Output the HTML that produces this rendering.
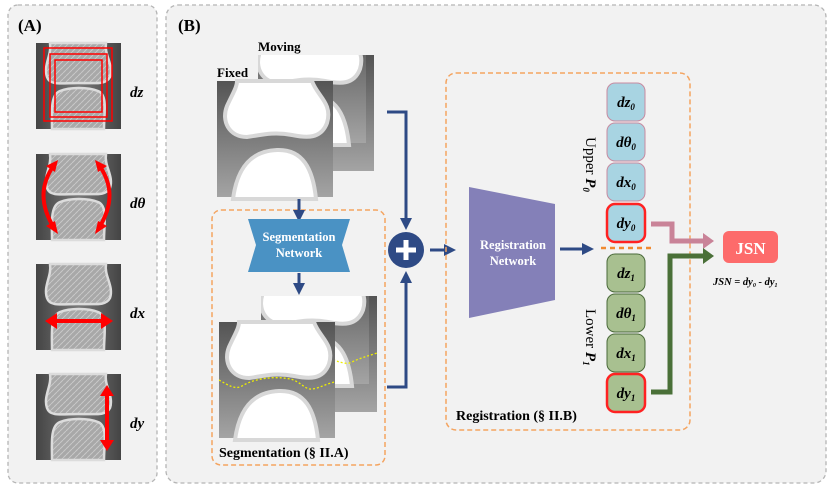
<!DOCTYPE html>
<html><head><meta charset="utf-8"><style>
html,body{margin:0;padding:0;background:#fff;}
svg{display:block;font-family:"Liberation Serif",serif;}
</style></head><body>
<svg width="830" height="491" viewBox="0 0 830 491" xmlns="http://www.w3.org/2000/svg">
<defs>
<linearGradient id="g1" x1="0" y1="0" x2="0" y2="1"><stop offset="0" stop-color="#545454"/><stop offset="1" stop-color="#a4a4a4"/></linearGradient>
<linearGradient id="xr" x1="0" y1="0" x2="1" y2="0"><stop offset="0" stop-color="#444"/><stop offset="0.5" stop-color="#7a7a7a"/><stop offset="1" stop-color="#444"/></linearGradient>
<pattern id="tex" width="6" height="6" patternUnits="userSpaceOnUse"><rect width="6" height="6" fill="#a8a8a8"/><path d="M0,3 L3,0 M3,6 L6,3" stroke="#c8c8c8" stroke-width="1"/></pattern>
<g id="bone">
<rect x="0" y="0" width="116" height="116" fill="url(#g1)"/>
<path d="M20,0 L95,0 C100,15 116,22 110,42 C104,58 90,57 75,54 C55,50 40,55 30,56 C12,56 4,40 10,25 C16,12 20,6 20,0 Z" fill="#fff" stroke="#d8d8d8" stroke-width="4"/>
<path d="M16,118 C20,88 33,70 60,69 C86,68 96,88 99,118 Z" fill="#fff" stroke="#d8d8d8" stroke-width="4"/>
</g>
<clipPath id="c116"><rect x="0" y="0" width="116" height="116"/></clipPath>
<g id="xray">
<rect width="85" height="86" fill="url(#xr)"/>
<path d="M14,0 L70,0 C68,12 78,22 74,34 C70,42 60,40 42,40 C26,40 14,43 11,34 C7,22 16,12 14,0Z" fill="url(#tex)" stroke="#dcdcdc" stroke-width="2.5"/>
<path d="M16,86 C16,70 14,52 24,48 C34,44 52,44 62,48 C72,52 68,70 68,86Z" fill="url(#tex)" stroke="#dcdcdc" stroke-width="2.5"/>
</g>
<marker id="ab" markerWidth="4" markerHeight="4" refX="2" refY="2" orient="auto" markerUnits="strokeWidth"><path d="M0,0 L4,2 L0,4Z" fill="#2e4a85"/></marker>
</defs>
<rect x="8" y="5" width="149" height="478" rx="10" fill="#f2f2f2" stroke="#b5b5b5" stroke-width="1.3" stroke-dasharray="4,3"/>
<rect x="166" y="5" width="660" height="478" rx="12" fill="#f2f2f2" stroke="#b5b5b5" stroke-width="1.3" stroke-dasharray="4,3"/>
<text x="18" y="31" font-size="17" font-weight="bold">(A)</text>
<text x="178" y="31" font-size="17" font-weight="bold">(B)</text>
<g transform="translate(36,43)"><use href="#xray"/></g>
<g fill="none" stroke="#f00" stroke-width="1.5"><rect x="44" y="48" width="68" height="73"/><rect x="50" y="54" width="57" height="63"/><rect x="55" y="60" width="47" height="52"/></g>
<g transform="translate(36,154)"><use href="#xray"/></g>
<g fill="none" stroke="#f00" stroke-width="4"><path d="M54,165 C40,185 40,205 54,228"/><path d="M99,165 C113,185 113,205 99,228"/></g>
<g fill="#f00"><path d="M58,160 L46,166 L55,172Z"/><path d="M58,234 L46,226 L55,221Z"/><path d="M95,160 L107,166 L98,172Z"/><path d="M95,234 L107,226 L98,221Z"/></g>
<g transform="translate(36,264)"><use href="#xray"/></g>
<path d="M52,321 L106,321" stroke="#f00" stroke-width="4"/>
<path d="M45,321 L57,313 L57,329Z M113,321 L101,313 L101,329Z" fill="#f00"/>
<g transform="translate(36,374)"><use href="#xray"/></g>
<path d="M107,392 L107,444" stroke="#f00" stroke-width="4"/>
<path d="M107,385 L100,396 L114,396Z M107,451 L100,440 L114,440Z" fill="#f00"/>
<g font-size="15" font-weight="bold" font-style="italic">
<text x="130" y="97">dz</text><text x="130" y="208">dθ</text><text x="130" y="318">dx</text><text x="130" y="428">dy</text></g>
<text x="258" y="51" font-size="13" font-weight="bold">Moving</text>
<text x="217" y="77" font-size="13" font-weight="bold">Fixed</text>
<g transform="translate(258,55)"><g clip-path="url(#c116)"><rect width="116" height="116" fill="url(#g1)"/><use href="#bone" transform="translate(-8,-28)"/></g></g>
<g transform="translate(217,81)"><use href="#bone"/></g>
<rect x="212" y="210" width="173" height="255" rx="9" fill="none" stroke="#f4a460" stroke-width="1.5" stroke-dasharray="5,3"/>
<path d="M299,199 L299,216" stroke="#2e4a85" stroke-width="3" marker-end="url(#ab)"/>
<path d="M248,219 L350,219 L342,245 L350,272 L248,272 L256,245Z" fill="#4a92c4"/>
<text x="299" y="241" font-size="12.5" font-weight="bold" fill="#fff" text-anchor="middle">Segmentation</text>
<text x="299" y="257" font-size="12.5" font-weight="bold" fill="#fff" text-anchor="middle">Network</text>
<path d="M299,273 L299,289" stroke="#2e4a85" stroke-width="3" marker-end="url(#ab)"/>
<g transform="translate(261,296)"><g clip-path="url(#c116)"><rect width="116" height="116" fill="url(#g1)"/><use href="#bone" transform="translate(-8,-28)"/></g></g>
<path d="M322,355 C335,360 345,366 352,362 C360,358 368,356 377,353" fill="none" stroke="#ee0" stroke-width="1.3" stroke-dasharray="2,2"/>
<g transform="translate(219,322)"><use href="#bone"/></g>
<path d="M219,380 C228,385 235,390 242,386 C255,378 275,376 290,379 C300,381 305,390 312,389 C320,388 328,383 335,382" fill="none" stroke="#ee0" stroke-width="1.3" stroke-dasharray="2,2"/>
<text x="219" y="457" font-size="14" font-weight="bold">Segmentation (§ II.A)</text>
<path d="M387,112 L406,112 L406,224" fill="none" stroke="#2e4a85" stroke-width="3" marker-end="url(#ab)"/>
<path d="M387,387 L406,387 L406,277" fill="none" stroke="#2e4a85" stroke-width="3" marker-end="url(#ab)"/>
<circle cx="406" cy="250" r="18" fill="#2e4a85"/>
<path d="M406,240 L406,260 M396,250 L416,250" stroke="#fff" stroke-width="5"/>
<path d="M430,250 L450,250" stroke="#2e4a85" stroke-width="3" marker-end="url(#ab)"/>
<rect x="446" y="73" width="244" height="357" rx="10" fill="none" stroke="#f4a460" stroke-width="1.5" stroke-dasharray="5,3"/>
<path d="M469,187 L555,204 L555,300 L469,318Z" fill="#8480b8"/>
<text x="513" y="249" font-size="12.5" font-weight="bold" fill="#fff" text-anchor="middle">Registration</text>
<text x="513" y="265" font-size="12.5" font-weight="bold" fill="#fff" text-anchor="middle">Network</text>
<path d="M560,249 L588,249" stroke="#2e4a85" stroke-width="3" marker-end="url(#ab)"/>
<path d="M601,248 L652,248" stroke="#f08a30" stroke-width="2.5" stroke-dasharray="5,4"/>
<g stroke-width="1">
<rect x="607" y="83" width="38" height="38" rx="8" fill="#a8d4e2" stroke="#c88aa0"/>
<rect x="607" y="123" width="38" height="38" rx="8" fill="#a8d4e2" stroke="#c88aa0"/>
<rect x="607" y="163" width="38" height="38" rx="8" fill="#a8d4e2" stroke="#c88aa0"/>
<rect x="607" y="204" width="38" height="38" rx="8" fill="#a8d4e2" stroke="#f22" stroke-width="2.5"/>
<rect x="607" y="254" width="38" height="38" rx="8" fill="#a8c090" stroke="#4a6a3a"/>
<rect x="607" y="294" width="38" height="38" rx="8" fill="#a8c090" stroke="#4a6a3a"/>
<rect x="607" y="334" width="38" height="38" rx="8" fill="#a8c090" stroke="#4a6a3a"/>
<rect x="607" y="374" width="38" height="38" rx="8" fill="#a8c090" stroke="#f22" stroke-width="2.5"/>
</g>
<g font-size="15" font-weight="bold" font-style="italic" text-anchor="middle">
<text x="626" y="107">dz<tspan font-size="9" dy="3">0</tspan></text>
<text x="626" y="147">dθ<tspan font-size="9" dy="3">0</tspan></text>
<text x="626" y="187">dx<tspan font-size="9" dy="3">0</tspan></text>
<text x="626" y="228">dy<tspan font-size="9" dy="3">0</tspan></text>
<text x="626" y="278">dz<tspan font-size="9" dy="3">1</tspan></text>
<text x="626" y="318">dθ<tspan font-size="9" dy="3">1</tspan></text>
<text x="626" y="358">dx<tspan font-size="9" dy="3">1</tspan></text>
<text x="626" y="398">dy<tspan font-size="9" dy="3">1</tspan></text>
</g>
<text transform="translate(586,137) rotate(90)" font-size="15">Upper <tspan font-weight="bold" font-style="italic">P</tspan><tspan font-size="9" font-style="italic" font-weight="bold" dy="3">0</tspan></text>
<text transform="translate(586,309) rotate(90)" font-size="15">Lower <tspan font-weight="bold" font-style="italic">P</tspan><tspan font-size="9" font-style="italic" font-weight="bold" dy="3">1</tspan></text>
<text x="456" y="420" font-size="14" font-weight="bold">Registration  (§ II.B)</text>
<path d="M651,224 L672,224 L672,241 L705,241" fill="none" stroke="#c98398" stroke-width="5"/>
<path d="M703,233 L714,241 L703,249Z" fill="#c98398"/>
<path d="M651,392 L670,392 L670,256 L705,256" fill="none" stroke="#4a7038" stroke-width="5"/>
<path d="M703,248 L714,256 L703,264Z" fill="#4a7038"/>
<rect x="723" y="231" width="55" height="32" rx="6" fill="#fd6b6b"/>
<text x="750.5" y="254" font-size="17" font-weight="bold" fill="#fff" text-anchor="middle">JSN</text>
<text x="713" y="285" font-size="10.5" font-weight="bold" font-style="italic">JSN = dy<tspan font-size="6" dy="2">0</tspan><tspan dy="-2"> - dy</tspan><tspan font-size="6" dy="2">1</tspan></text>
</svg>
</body></html>
